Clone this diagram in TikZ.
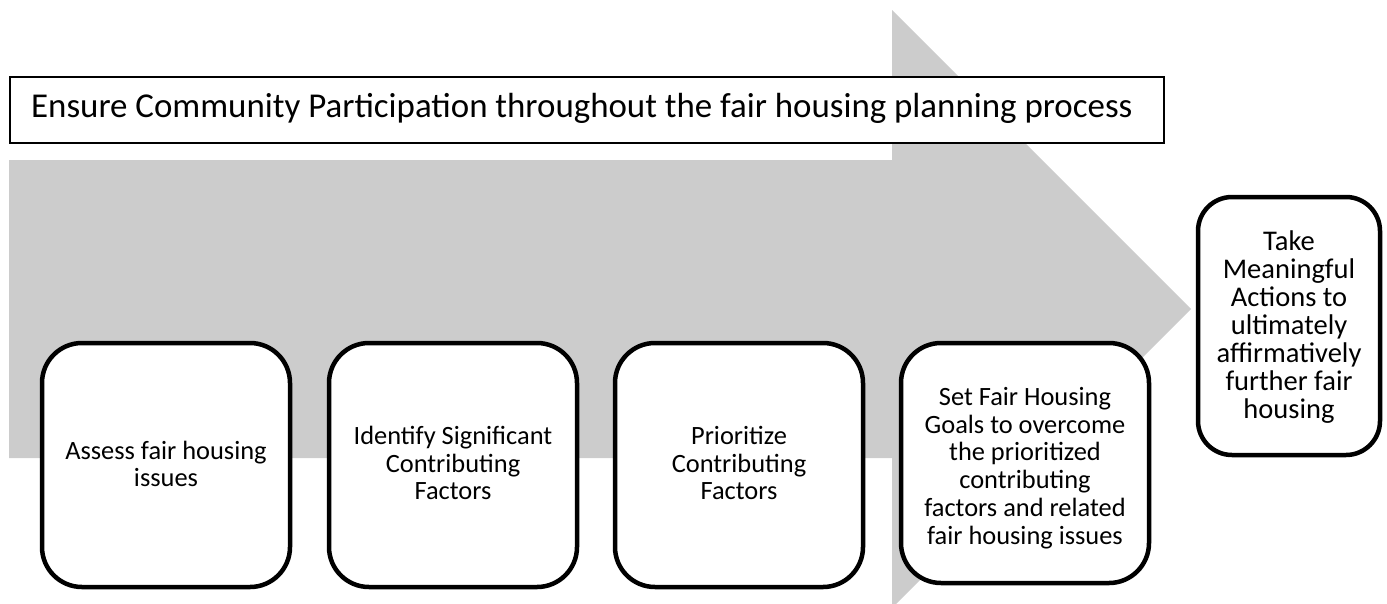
\documentclass[tikz,border=0pt]{standalone}
\usepackage{fontspec}
\setmainfont{Carlito}
\definecolor{arrowgray}{RGB}{204,204,204}
\begin{document}
\begin{tikzpicture}[x=1pt,y=-1pt,
  stepbox/.style={draw=black, line width=4.5pt, fill=white, rounded corners=40pt, inner sep=0pt, minimum width=248pt, minimum height=244pt},
  txt/.style={font=\fontsize{26.4}{27.7}\selectfont, align=center, text=black, inner sep=0pt},
  bigtxt/.style={font=\fontsize{28.5}{27.9}\selectfont, align=center, text=black, inner sep=0pt},
  bannerbox/.style={draw=black, line width=1.8pt, fill=white, inner sep=0pt, minimum width=1154pt, minimum height=66pt, anchor=north west},
]
\useasboundingbox (0,0) rectangle (1387,603);
\clip (0,0) rectangle (1387,603);
% big process arrow
\fill[arrowgray] (9,160) -- (892,160) -- (892,10) -- (1191,309) -- (892,608) -- (892,458) -- (9,458) -- cycle;
% banner
\node[bannerbox] (banner) at (9,76) {};
\node[anchor=base west, inner sep=0pt, font=\fontsize{34.9}{40}\selectfont] (bannertext) at (31,117) {Ensure Community Participation throughout the fair housing planning process};
% step boxes
\node[stepbox] (b1) at (166,465) {};
\node[stepbox] (b2) at (453,465) {};
\node[stepbox] (b3) at (739,465) {};
\node[stepbox, minimum height=240pt] (b4) at (1025,463) {};
\node[stepbox, rounded corners=34pt, minimum width=182pt, minimum height=258pt] (b5) at (1289,326) {};
% texts
\node[txt] (t1) at (166,464) {Assess fair housing\\issues};
\node[txt] (t2) at (453,463) {Identify Significant\\Contributing\\Factors};
\node[txt] (t3) at (739,463) {Prioritize\\Contributing\\Factors};
\node[txt] (t4) at (1025,468) {Set Fair Housing\\Goals to overcome\\the prioritized\\contributing\\factors and related\\fair housing issues};
\node[bigtxt] (t5) at (1289,327) {Take\\Meaningful\\Actions to\\ultimately\\affirmatively\\further fair\\housing};
\end{tikzpicture}
\end{document}
